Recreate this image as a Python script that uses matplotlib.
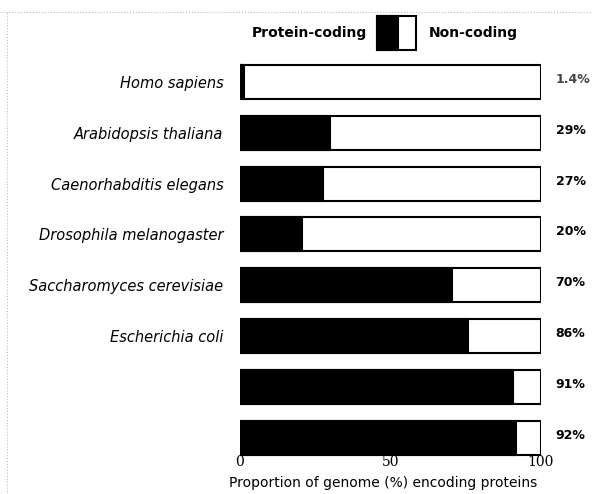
import matplotlib
matplotlib.use("Agg")
import matplotlib.pyplot as plt
from matplotlib.lines import Line2D
from matplotlib.patches import Rectangle

species = ["Homo sapiens", "Arabidopsis thaliana", "Caenorhabditis elegans",
           "Drosophila melanogaster", "Saccharomyces cerevisiae",
           "Escherichia coli", "", ""]
coding = [1.4, 30, 27.5, 20.5, 70.5, 76, 91, 92]
value_labels = ["1.4%", "29%", "27%", "20%", "70%", "86%", "91%", "92%"]
xticks = [0, 50, 100]

fig = plt.figure(figsize=(5.92, 4.94), dpi=100)
ax = fig.add_axes([240/592, 1-463/494, (540.5-240)/592, (463-56.6)/494])

y = list(range(len(species)))
ax.barh(y, [100]*len(y), height=0.67, color="white", edgecolor="black", linewidth=1.5)
ax.barh(y, coding, height=0.67, color="black", edgecolor="black", linewidth=1.5)

ax.set_xlim(0, 100)
ax.set_ylim(len(y)-0.5, -0.5)
for s in ax.spines.values():
    s.set_visible(False)
ax.set_yticks(y)
ax.set_yticklabels(species, style="italic", fontsize=10.5, family="DejaVu Sans")
ax.tick_params(axis="y", length=0, pad=12)
ax.set_xticks(xticks)
ax.set_xticklabels([str(t) for t in xticks], family="DejaVu Serif", fontsize=10)
ax.tick_params(axis="x", length=0, pad=-6)

fig.text(383/592, 1-483/494, "Proportion of genome (%) encoding proteins",
         ha="center", va="center", fontsize=10)

for yi, lab in zip(y, value_labels):
    ax.text(105, yi - 0.05, lab, fontsize=9, fontweight="bold", va="center", ha="left",
            color="#444444" if lab == "1.4%" else "black", clip_on=False)

# legend at top
fig.text(367/592, 1-33/494, "Protein-coding", ha="right", va="center", fontsize=10, fontweight="bold")
fig.text(429/592, 1-33/494, "Non-coding", ha="left", va="center", fontsize=10, fontweight="bold")
fig.patches.append(Rectangle((377/592, 1-50/494), 39/592, 34/494, transform=fig.transFigure,
                             facecolor="white", edgecolor="black", linewidth=1.5))
fig.patches.append(Rectangle((377/592, 1-50/494), 21/592, 34/494, transform=fig.transFigure,
                             facecolor="black", edgecolor="black", linewidth=1.5))

# page border dotted lines
fig.add_artist(Line2D([0, 1], [1-12/494, 1-12/494], transform=fig.transFigure,
                      color="#bbbbbb", linestyle=":", linewidth=0.8))
fig.add_artist(Line2D([7/592, 7/592], [0, 1-12/494], transform=fig.transFigure,
                      color="#bbbbbb", linestyle=":", linewidth=0.8))

fig.savefig("out.png", dpi=100)
